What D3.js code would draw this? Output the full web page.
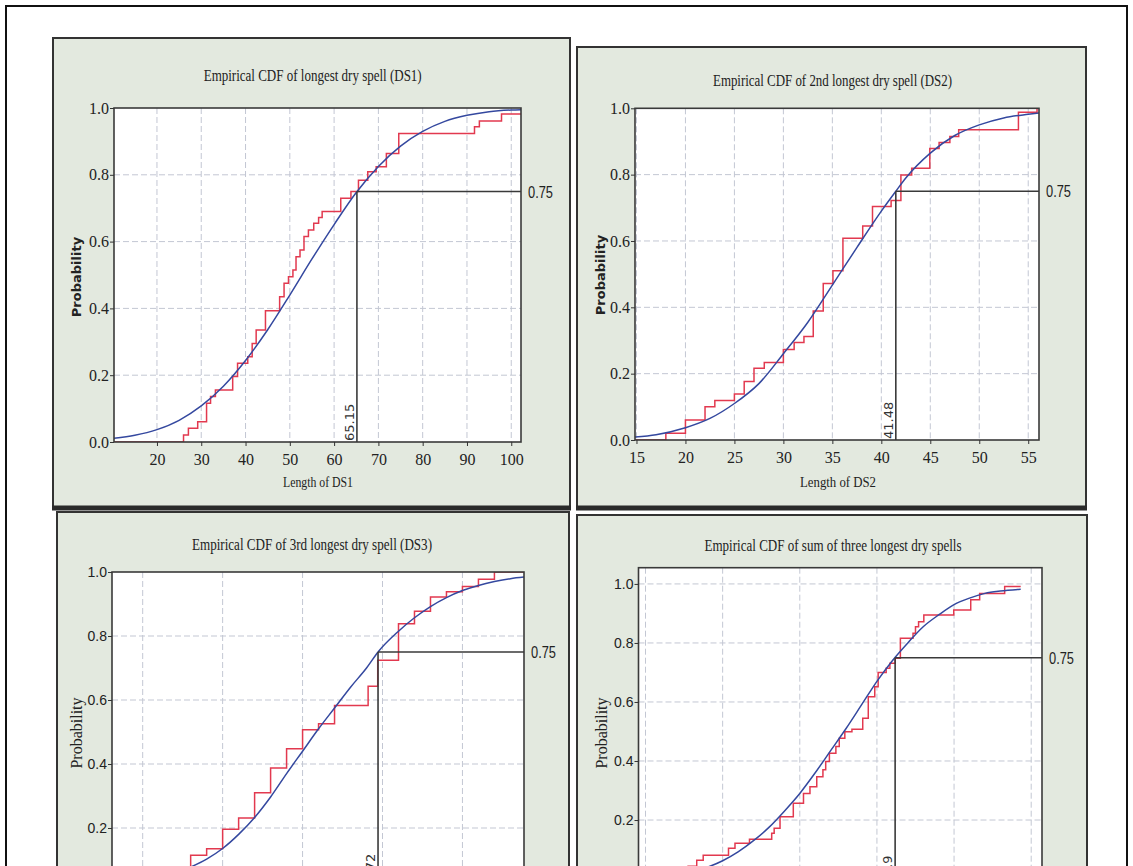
<!DOCTYPE html>
<html><head><meta charset="utf-8">
<script src="https://cdn.jsdelivr.net/npm/d3@7"></script>
<style>
html,body{margin:0;padding:0;background:#fff;}
svg{display:block;}
</style></head><body>
<svg id="c" width="1133" height="866"></svg>
<script>
// ---------------- DATA ----------------
const probTicks = [0, 0.2, 0.4, 0.6, 0.8, 1.0];
const refProb = 0.75;

// Panel 1: longest dry spell (DS1)
const ds1Ticks = [20, 30, 40, 50, 60, 70, 80, 90, 100];
const ds1StepX = [26.0, 27.1, 29.2, 31.2, 32.1, 33.2, 37.1, 38.2, 40.5, 41.5, 42.4, 44.5, 47.7, 48.7, 49.7, 50.7, 51.4, 52.3, 53.2, 54.2, 55.4, 56.5, 57.3, 61.5, 63.8, 65.5, 67.6, 69.5, 71.8, 74.6, 91.7, 92.8, 97.8];
const ds1StepP = [0.021, 0.041, 0.061, 0.116, 0.136, 0.156, 0.196, 0.236, 0.255, 0.295, 0.335, 0.393, 0.435, 0.475, 0.495, 0.515, 0.555, 0.575, 0.615, 0.635, 0.655, 0.672, 0.69, 0.73, 0.75, 0.784, 0.809, 0.824, 0.864, 0.924, 0.944, 0.961, 0.982];
const ds1FitX = [10.3, 15, 20, 25, 30, 35, 40, 45, 50, 55, 60, 65, 70, 75, 80, 85, 90, 95, 100, 102.2];
const ds1FitP = [0.011, 0.02, 0.037, 0.065, 0.108, 0.167, 0.244, 0.336, 0.44, 0.548, 0.651, 0.747, 0.825, 0.886, 0.93, 0.96, 0.978, 0.989, 0.994, 0.995];
const ds1Q3 = 65.15;

// Panel 2: 2nd longest dry spell (DS2)
const ds2Ticks = [15, 20, 25, 30, 35, 40, 45, 50, 55];
const ds2StepX = [18.0, 20.0, 22.0, 23.0, 25.0, 26.0, 27.0, 28.05, 30.0, 31.1, 32.1, 33.05, 34.07, 35.06, 36.08, 38.1, 39.1, 41.0, 42.0, 43.1, 44.95, 45.9, 47.0, 47.9, 54.0, 55.9];
const ds2StepP = [0.02, 0.06, 0.10, 0.119, 0.139, 0.176, 0.216, 0.234, 0.273, 0.294, 0.312, 0.389, 0.472, 0.51, 0.608, 0.645, 0.704, 0.722, 0.799, 0.819, 0.879, 0.897, 0.915, 0.935, 0.988, 1.0];
const ds2FitX = [14.85, 17, 20, 22.5, 25, 27.5, 30, 32.5, 35, 37.5, 40, 41.48, 42.5, 45, 47.5, 50, 52.5, 55, 56.1];
const ds2FitP = [0.009, 0.016, 0.037, 0.065, 0.11, 0.17, 0.26, 0.355, 0.467, 0.58, 0.69, 0.75, 0.79, 0.865, 0.918, 0.95, 0.971, 0.982, 0.986];
const ds2Q3 = 41.48;

// Panel 3: 3rd longest dry spell (DS3)
const ds3Ticks = [15, 20, 25, 30, 35];
const ds3StepX = [14.0, 15.0, 16.0, 18.0, 19.0, 20.0, 21.0, 22.0, 23.0, 24.0, 25.0, 26.0, 27.0, 29.1, 29.7, 31.0, 32.0, 33.0, 34.0, 35.0, 36.0, 37.0];
const ds3StepP = [0.019, 0.038, 0.058, 0.115, 0.135, 0.196, 0.231, 0.31, 0.3875, 0.448, 0.507, 0.526, 0.583, 0.643, 0.724, 0.838, 0.877, 0.922, 0.938, 0.955, 0.977, 1.0];
const ds3FitX = [13.08, 14, 15, 16, 17, 18, 19, 20, 21, 22, 23, 24, 25, 26, 27, 28, 29, 29.72, 31, 32, 33, 34, 35, 36, 37, 38, 38.85];
const ds3FitP = [0.012, 0.018, 0.028, 0.042, 0.058, 0.078, 0.103, 0.136, 0.18, 0.233, 0.297, 0.37, 0.44, 0.51, 0.575, 0.64, 0.70, 0.75, 0.815, 0.857, 0.892, 0.92, 0.942, 0.958, 0.97, 0.979, 0.984];
const ds3Q3 = 29.72;

// Panel 4: sum of three longest dry spells
const sumTicks = [50, 75, 100, 125, 150, 175];
const sumStepX = [60.5, 63.8, 66.6, 68.7, 76.9, 79.0, 83.7, 90.9, 91.7, 93.6, 97.9, 101.2, 103.3, 105.5, 107.5, 108.4, 109.6, 111.7, 112.8, 114.6, 116.9, 120.4, 122.2, 124.3, 125.4, 128.0, 129.2, 130.9, 132.6, 136.7, 137.5, 138.5, 140.2, 149.9, 155.4, 158.3, 166.4];
const sumStepP = [0.021, 0.043, 0.064, 0.081, 0.104, 0.121, 0.135, 0.155, 0.172, 0.211, 0.257, 0.29, 0.313, 0.347, 0.37, 0.398, 0.426, 0.449, 0.477, 0.499, 0.508, 0.545, 0.618, 0.652, 0.70, 0.714, 0.731, 0.748, 0.816, 0.833, 0.855, 0.872, 0.895, 0.912, 0.946, 0.968, 0.991];
const sumStepEnd = 171.6;
const sumFitX = [55, 60, 65, 70, 75, 80, 85, 90, 95, 100, 105, 110, 115, 120, 125, 130, 135, 140, 145, 150, 155, 160, 165, 171.6];
const sumFitP = [0.01, 0.016, 0.026, 0.04, 0.062, 0.092, 0.13, 0.175, 0.23, 0.29, 0.36, 0.435, 0.51, 0.59, 0.67, 0.74, 0.80, 0.855, 0.895, 0.93, 0.952, 0.968, 0.976, 0.982];
const sumQ3 = 130.9;

// ---------------- STYLE ----------------
const SERIF = "'Liberation Serif','Times New Roman',serif";
const SANS = "'DejaVu Sans',Verdana,sans-serif";
const LSANS = "'Liberation Sans',Arial,sans-serif";
const RED = "#e2394f", BLUE = "#34489f", REF = "#3a3a3a", GRID = "#c3c7d3", PANEL_BG = "#e3e9df";
const VIEW_H = 866;

const svg = d3.select("#c");

// outer page frame
svg.append("rect").attr("x", 6).attr("y", 6).attr("width", 1121).attr("height", 900)
  .attr("fill", "#fff").attr("stroke", "#111").attr("stroke-width", 2);

const panels = [
  { frame: [53, 38, 517, 470], plot: { l: 114, r: 521, t: 108, b: 442 }, xDomain: [10.3, 102.2], yDomain: [0, 1],
    xTicks: ds1Ticks, stepX: ds1StepX, stepP: ds1StepP, fitX: ds1FitX, fitP: ds1FitP, q3: ds1Q3, q3Label: "65.15",
    title: "Empirical CDF of  longest dry spell (DS1)", title_x: 312.7, title_y: 81, title_len: 218,
    xLabel: "Length of DS1", xl_x: 318, xl_y: 487, xl_len: 70, yl_x: 76, yl_y: 277, ylBold: true,
    yTickFont: SERIF, yTickSize: 16, drawX: true, thickBottom: true },
  { frame: [577, 47, 509, 461], plot: { l: 635, r: 1039, t: 108.3, b: 440 }, xDomain: [14.85, 56.1], yDomain: [0, 1],
    xTicks: ds2Ticks, stepX: ds2StepX, stepP: ds2StepP, fitX: ds2FitX, fitP: ds2FitP, q3: ds2Q3, q3Label: "41.48",
    title: "Empirical CDF of 2nd  longest dry spell (DS2)", title_x: 832.5, title_y: 86, title_len: 239,
    xLabel: "Length of DS2", xl_x: 838, xl_y: 487, xl_len: 76, yl_x: 600, yl_y: 275, ylBold: true,
    yTickFont: SERIF, yTickSize: 16, drawX: true, thickBottom: true },
  { frame: [57, 512, 512, 400], plot: { l: 112, r: 524, t: 572, b: 892 }, xDomain: [13.08, 38.85], yDomain: [0, 1],
    xTicks: ds3Ticks, stepX: ds3StepX, stepP: ds3StepP, fitX: ds3FitX, fitP: ds3FitP, q3: ds3Q3, q3Label: "29.72",
    title: "Empirical CDF of 3rd longest dry spell (DS3)", title_x: 312, title_y: 550, title_len: 240,
    yl_x: 76, yl_y: 733, ylBold: false, yTickFont: LSANS, yTickSize: 14, drawX: false },
  { frame: [577, 515, 510, 400], plot: { l: 638.5, r: 1042, t: 567.7, b: 893.8 }, xDomain: [47.73, 178.5], yDomain: [-0.05, 1.055],
    xTicks: sumTicks, stepX: sumStepX, stepP: sumStepP, stepEnd: sumStepEnd, fitX: sumFitX, fitP: sumFitP, q3: sumQ3, q3Label: "130.9",
    title: "Empirical CDF of  sum of three longest dry spells", title_x: 833, title_y: 551, title_len: 257,
    yl_x: 601, yl_y: 733, ylBold: false, yTickFont: LSANS, yTickSize: 14, drawX: false }
];

panels.forEach((cfg, i) => drawPanel(cfg, i));

function drawPanel(cfg, idx) {
  const g = svg.append("g");
  const [fx, fy, fw, fh] = cfg.frame;
  g.append("rect").attr("x", fx).attr("y", fy).attr("width", fw).attr("height", fh)
    .attr("fill", PANEL_BG).attr("stroke", "#333").attr("stroke-width", 2);
  if (cfg.thickBottom) {
    g.append("line").attr("x1", fx - 1).attr("x2", fx + fw + 1).attr("y1", fy + fh).attr("y2", fy + fh)
      .attr("stroke", "#2a2a2a").attr("stroke-width", 5);
  }
  const P = cfg.plot;
  const x = d3.scaleLinear().domain(cfg.xDomain).range([P.l, P.r]);
  const y = d3.scaleLinear().domain(cfg.yDomain).range([P.b, P.t]);

  g.append("rect").attr("x", P.l).attr("y", P.t).attr("width", P.r - P.l).attr("height", P.b - P.t).attr("fill", "#fff");

  const clipId = "clip" + idx;
  svg.append("defs").append("clipPath").attr("id", clipId)
    .append("rect").attr("x", P.l).attr("y", P.t).attr("width", P.r - P.l).attr("height", P.b - P.t);

  // gridlines
  g.append("g").selectAll("line").data(cfg.xTicks).join("line")
    .attr("x1", d => x(d)).attr("x2", d => x(d)).attr("y1", P.t).attr("y2", P.b)
    .attr("stroke", GRID).attr("stroke-width", 1).attr("stroke-dasharray", "6,3");
  g.append("g").selectAll("line").data(probTicks.filter(t => Math.abs(y(t) - P.t) > 2 && Math.abs(y(t) - P.b) > 2)).join("line")
    .attr("x1", P.l).attr("x2", P.r).attr("y1", d => y(d)).attr("y2", d => y(d))
    .attr("stroke", GRID).attr("stroke-width", 1).attr("stroke-dasharray", "6,3");

  const cg = g.append("g").attr("clip-path", `url(#${clipId})`);

  // empirical step CDF
  const endX = cfg.stepEnd !== undefined ? cfg.stepEnd : cfg.xDomain[1];
  const stepPts = [[cfg.xDomain[0], 0]].concat(cfg.stepX.map((v, k) => [v, cfg.stepP[k]]));
  stepPts.push([endX, cfg.stepP[cfg.stepP.length - 1]]);
  const stepLine = d3.line().x(d => x(d[0])).y(d => y(d[1])).curve(d3.curveStepAfter);
  cg.append("path").attr("d", stepLine(stepPts)).attr("fill", "none").attr("stroke", RED).attr("stroke-width", 1.5);

  // fitted CDF
  const fitPts = cfg.fitX.map((v, k) => [v, cfg.fitP[k]]);
  const fitLine = d3.line().x(d => x(d[0])).y(d => y(d[1])).curve(d3.curveMonotoneX);
  cg.append("path").attr("d", fitLine(fitPts)).attr("fill", "none").attr("stroke", BLUE).attr("stroke-width", 1.5);

  // reference lines
  g.append("line").attr("x1", x(cfg.q3)).attr("x2", x(cfg.q3)).attr("y1", P.b).attr("y2", y(refProb))
    .attr("stroke", REF).attr("stroke-width", 1.6);
  g.append("line").attr("x1", x(cfg.q3)).attr("x2", P.r).attr("y1", y(refProb)).attr("y2", y(refProb))
    .attr("stroke", REF).attr("stroke-width", 1.6);
  g.append("text").attr("x", P.r + 7).attr("y", y(refProb)).attr("dy", "0.36em")
    .attr("font-family", LSANS).attr("font-size", 17).attr("fill", "#222")
    .attr("textLength", 25).attr("lengthAdjust", "spacingAndGlyphs").text("0.75");
  g.append("text").attr("transform", `translate(${x(cfg.q3) - 3},${P.b - 1}) rotate(-90)`)
    .attr("font-family", SANS).attr("font-size", 13).attr("fill", "#333").attr("text-anchor", "start").text(cfg.q3Label);

  // plot border
  g.append("rect").attr("x", P.l).attr("y", P.t).attr("width", P.r - P.l).attr("height", P.b - P.t)
    .attr("fill", "none").attr("stroke", "#3a3a3a").attr("stroke-width", 1.6);

  // axes (only ticks that fall inside the picture)
  const visTicks = probTicks.filter(t => y(t) < VIEW_H - 8);
  const ya = g.append("g").attr("transform", `translate(${P.l},0)`)
    .call(d3.axisLeft(y).tickValues(visTicks).tickFormat(d3.format(".1f")).tickSize(4).tickPadding(1));
  ya.select(".domain").remove();
  ya.selectAll("line").attr("stroke", "#333");
  ya.selectAll("text").attr("font-family", cfg.yTickFont).attr("font-size", cfg.yTickSize).attr("fill", "#222");

  if (cfg.drawX) {
    const xa = g.append("g").attr("transform", `translate(0,${P.b})`)
      .call(d3.axisBottom(x).tickValues(cfg.xTicks).tickFormat(d3.format("d")).tickSize(4).tickPadding(8));
    xa.select(".domain").remove();
    xa.selectAll("line").attr("stroke", "#333");
    xa.selectAll("text").attr("font-family", SERIF).attr("font-size", 16).attr("fill", "#222");
    g.append("text").attr("x", cfg.xl_x).attr("y", cfg.xl_y).attr("text-anchor", "middle")
      .attr("font-family", SERIF).attr("font-size", 15).attr("fill", "#222")
      .attr("textLength", cfg.xl_len).attr("lengthAdjust", "spacingAndGlyphs").text(cfg.xLabel);
  }

  // title
  g.append("text").attr("x", cfg.title_x).attr("y", cfg.title_y).attr("text-anchor", "middle")
    .attr("font-family", SERIF).attr("font-size", 16).attr("fill", "#222")
    .attr("textLength", cfg.title_len).attr("lengthAdjust", "spacingAndGlyphs").text(cfg.title);

  // y label
  g.append("text").attr("transform", `translate(${cfg.yl_x},${cfg.yl_y}) rotate(-90)`)
    .attr("text-anchor", "middle").attr("dy", "0.35em")
    .attr("font-family", cfg.ylBold ? SANS : SERIF).attr("font-weight", cfg.ylBold ? "bold" : "normal")
    .attr("font-size", cfg.ylBold ? 13 : 16).attr("fill", "#222").text("Probability");
}
</script>
</body></html>
